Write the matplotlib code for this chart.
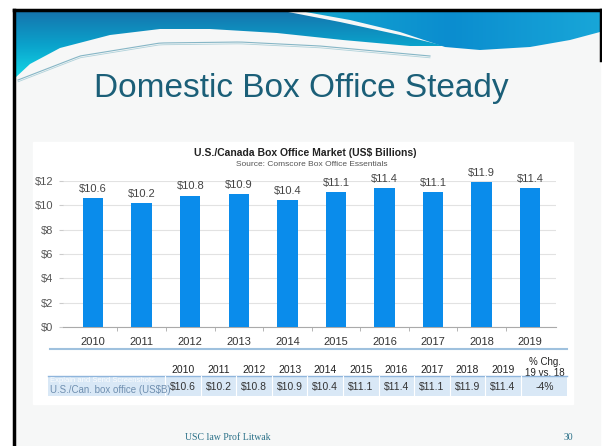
import numpy as np
import matplotlib
matplotlib.use("Agg")
import matplotlib.pyplot as plt
from matplotlib.patches import Polygon, Rectangle

# data
years = ["2010", "2011", "2012", "2013", "2014", "2015", "2016", "2017", "2018", "2019"]
box_office = [10.6, 10.2, 10.8, 10.9, 10.4, 11.1, 11.4, 11.1, 11.9, 11.4]
y_ticks = [0, 2, 4, 6, 8, 10, 12]
pct_change = "-4%"

W, H = 602, 446
plt.rcParams['font.family'] = ['Liberation Sans', 'DejaVu Sans']
fig = plt.figure(figsize=(W / 100, H / 100), dpi=100)

# background layer in pixel coords
bg = fig.add_axes([0, 0, 1, 1])
bg.set_xlim(0, W)
bg.set_ylim(H, 0)
bg.axis("off")

bg.add_patch(Rectangle((15, 11), 585, 440, color="#f6f7f7", zorder=0))

# banner: left cyan/blue swoosh
left_pts = [(15, 11), (283, 11), (340, 22), (400, 35), (445, 46), (410, 46), (343, 40),
            (277, 33), (210, 29), (160, 29), (110, 35), (60, 48), (30, 64), (15, 78)]
left_poly = Polygon(left_pts, closed=True, facecolor="none", edgecolor="none")
bg.add_patch(left_poly)
im = bg.imshow(np.linspace(0, 1, 100).reshape(-1, 1), extent=(15, 450, 80, 11),
               cmap=matplotlib.colors.LinearSegmentedColormap.from_list(
                   "b1", ["#1574ad", "#0aa3cc", "#14dbe8"]), aspect="auto", zorder=1)
im.set_clip_path(left_poly)

right_pts = [(300, 11), (600, 11), (600, 32), (570, 40), (530, 47), (480, 50),
             (445, 47), (400, 32), (350, 20)]
right_poly = Polygon(right_pts, closed=True, facecolor="none", edgecolor="none")
bg.add_patch(right_poly)
im2 = bg.imshow(np.linspace(0, 1, 100).reshape(1, -1), extent=(300, 600, 50, 11),
                cmap=matplotlib.colors.LinearSegmentedColormap.from_list(
                    "b2", ["#14a7cf", "#0b8dcf", "#18a6d8"]), aspect="auto", zorder=1)
im2.set_clip_path(right_poly)

# thin lines under the swoosh
lx = np.linspace(18, 430, 80)
ly = np.interp(lx, [18, 80, 160, 240, 320, 430], [80, 56, 43, 42, 46, 56])
bg.plot(lx, ly, color="#86b6c6", lw=0.8, zorder=2)
bg.plot(lx, ly + 1.8, color="#b0d2da", lw=0.6, zorder=2)

# slide border
bg.plot([13.5, 13.5], [9.5, H], color="black", lw=2.5, zorder=3)
bg.plot([13.5, 600.5], [9.5, 9.5], color="black", lw=2.5, zorder=3)
bg.plot([600.5, 600.5], [9.5, 60], color="black", lw=2.5, zorder=3)

# slide title
bg.text(301, 88, "Domestic Box Office Steady", ha="center", va="center",
        fontsize=24, color="#1b5f78", zorder=4)

# chart image box
bg.add_patch(Rectangle((33, 142), 540, 262, color="white", zorder=2))
bg.text(305, 153, "U.S./Canada Box Office Market (US$ Billions)", ha="center", va="center",
        fontsize=7.5, fontweight="bold", color="#222222", zorder=4)
bg.text(312, 164, "Source: Comscore Box Office Essentials", ha="center", va="center",
        fontsize=6, color="#555555", zorder=4)

# table under chart
bg.plot([50, 567], [349, 349], color="#9fc1de", lw=1.5, zorder=3)
col_x = np.linspace(183, 503, len(years))
for cx, yr in zip(col_x, years):
    bg.text(cx, 370, yr, ha="center", va="center", fontsize=7.5, color="#222222", zorder=4)
bg.text(545, 362, "% Chg.", ha="center", va="center", fontsize=7, color="#222222", zorder=4)
bg.text(545, 373, "19 vs. 18", ha="center", va="center", fontsize=7, color="#222222", zorder=4)
bg.add_patch(Rectangle((48, 376), 519, 20, facecolor="#d9e8f6", edgecolor="none", zorder=3))
bg.plot([48, 567], [376, 376], color="#8fb5dc", lw=1, zorder=4)
for sx in list((col_x[:-1] + col_x[1:]) / 2) + [col_x[0] - 18, col_x[-1] + 18]:
    bg.plot([sx, sx], [376, 396], color="white", lw=0.8, zorder=4)
for cx, v in zip(col_x, box_office):
    bg.text(cx, 387, f"${v}", ha="center", va="center", fontsize=7.5, color="#333333", zorder=5)
bg.text(545, 387, pct_change, ha="center", va="center", fontsize=7.5, color="#333333", zorder=5)
bg.text(50, 381, "Explain and Send Screenshots", ha="left", va="center", fontsize=5.5,
        color="white", alpha=0.9, zorder=6)
bg.text(50, 390, "U.S./Can. box office (US$B)", ha="left", va="center", fontsize=7,
        color="#6f8fb0", zorder=5)

# footer
bg.text(228, 437, "USC law Prof Litwak", ha="center", va="center", fontsize=7,
        family=["Liberation Serif", "DejaVu Serif"], color="#2a7088", zorder=4)
bg.text(568, 437, "30", ha="center", va="center", fontsize=7,
        family=["Liberation Serif", "DejaVu Serif"], color="#2a7088", zorder=4)

# bar chart
ax = fig.add_axes([63 / W, 1 - 327 / H, (556 - 63) / W, (327 - 181) / H])
ax.set_facecolor("none")
x = np.arange(len(years))
ax.bar(x, box_office, width=0.42, color="#0a8ceb", zorder=3)
for xi, v in zip(x, box_office):
    ax.text(xi, v + 0.35, f"${v}", ha="center", va="bottom", fontsize=8, color="#444444")
ax.set_xlim(-0.62, 9.53)
ax.set_ylim(0, 12)
ax.set_yticks(y_ticks)
ax.set_yticklabels([f"${t}" for t in y_ticks], fontsize=8, color="#555555")
ax.set_xticks(x)
ax.set_xticklabels(years, fontsize=8, color="#333333")
ax.set_xticks(x[:-1] + 0.5, minor=True)
ax.tick_params(axis="x", which="major", length=0, pad=7)
ax.tick_params(axis="x", which="minor", length=3, color="#aaaaaa")
ax.tick_params(axis="y", length=3, color="#cccccc", pad=4)
ax.grid(axis="y", color="#e2e2e2", lw=0.8, zorder=0)
for s in ["top", "right", "left"]:
    ax.spines[s].set_visible(False)
ax.spines["bottom"].set_color("#aaaaaa")

fig.savefig("out.png", dpi=100)
